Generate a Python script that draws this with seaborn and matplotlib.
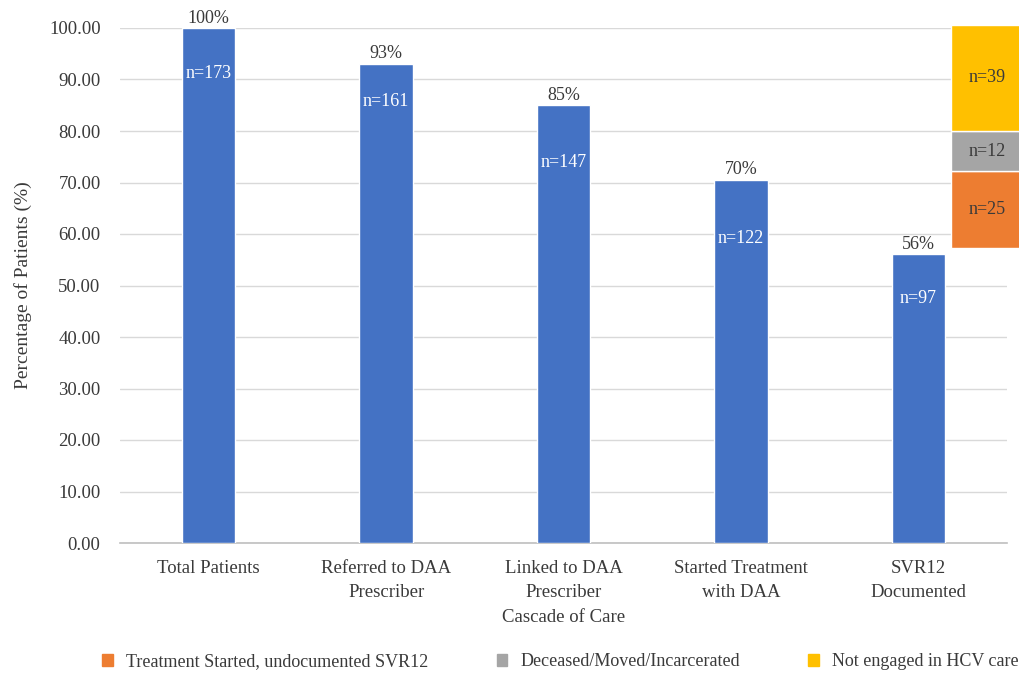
import matplotlib
matplotlib.use("Agg")
import matplotlib.pyplot as plt
import matplotlib.patches as mpatches
import seaborn as sns
import pandas as pd

# ---- data ----
categories = ["Total Patients", "Referred to DAA\nPrescriber", "Linked to DAA\nPrescriber\nCascade of Care",
              "Started Treatment\nwith DAA", "SVR12\nDocumented"]
percentages = [100.0, 93.06, 84.97, 70.52, 56.07]
pct_labels = ["100%", "93%", "85%", "70%", "56%"]
n_labels = ["n=173", "n=161", "n=147", "n=122", "n=97"]

stack_names = ["Treatment Started, undocumented SVR12", "Deceased/Moved/Incarcerated", "Not engaged in HCV care"]
stack_values = [14.9, 7.8, 20.6]
stack_n_labels = ["n=25", "n=12", "n=39"]
stack_base = 57.3

# ---- style ----
blue = "#4472C4"
stack_colors = ["#ED7D31", "#A5A5A5", "#FFC000"]
text_col = "#3A3A3A"
n_label_offsets_px = [46, 38, 57, 59, 44]

sns.set_theme(style="white")
plt.rcParams["font.family"] = ["Liberation Serif", "DejaVu Serif"]

fig = plt.figure(figsize=(10.19, 6.74), dpi=100)
ax = fig.add_axes([120 / 1019, 1 - 543 / 674, 887 / 1019, 515 / 674])

df = pd.DataFrame({"cat": categories, "pct": percentages})
sns.barplot(data=df, x="cat", y="pct", color=blue, width=0.30, saturation=1, ax=ax, zorder=3)

ax.set_ylim(0, 100)
ax.set_xlim(-0.5, 4.5)
ax.set_yticks(range(0, 101, 10))
ax.set_yticklabels([f"{v:.2f}" for v in range(0, 101, 10)], fontsize=13.5, color=text_col)
ax.tick_params(axis="x", labelsize=13.5, colors=text_col, length=0, pad=12)
ax.tick_params(axis="y", length=0, pad=14)
for t in ax.get_xticklabels():
    t.set_linespacing(1.6)
ax.grid(axis="y", color="#D9D9D9", linewidth=1.0, zorder=0)
ax.set_axisbelow(True)
for s in ["top", "right", "left"]:
    ax.spines[s].set_visible(False)
ax.spines["bottom"].set_color("#BFBFBF")
ax.spines["bottom"].set_linewidth(1.2)
ax.set_xlabel("")
ax.set_ylabel("Percentage of Patients (%)", fontsize=14, color=text_col, labelpad=12)

# labels on bars
for i, (p, pl, nl, off) in enumerate(zip(percentages, pct_labels, n_labels, n_label_offsets_px)):
    ax.annotate(pl, (i, p), xytext=(0, 1), textcoords="offset points", ha="center", va="bottom",
                fontsize=13, color=text_col, annotation_clip=False)
    ax.annotate(nl, (i, p), xytext=(0, -off * 0.72), textcoords="offset points", ha="center", va="center",
                fontsize=13, color="white")

# stacked bar at right edge
bottom = stack_base
x_left = 4.186
handles = []
for v, c, nl, name in zip(stack_values, stack_colors, stack_n_labels, stack_names):
    ax.bar(x_left, v, bottom=bottom, width=0.5, align="edge", color=c, clip_on=False, zorder=3)
    ax.text(x_left + 0.2, bottom + v / 2, nl, ha="center", va="center", fontsize=13, color=text_col,
            clip_on=False)
    bottom += v
    handles.append(mpatches.Patch(color=c, label=name))

fig.legend(handles=handles, loc="center left", bbox_to_anchor=(86 / 1019, 1 - 662 / 674), ncol=3,
           frameon=False, fontsize=13, handlelength=0.6, handleheight=0.6, handletextpad=0.7,
           columnspacing=3.8, labelcolor=text_col)

fig.savefig("out.png", dpi=100)
